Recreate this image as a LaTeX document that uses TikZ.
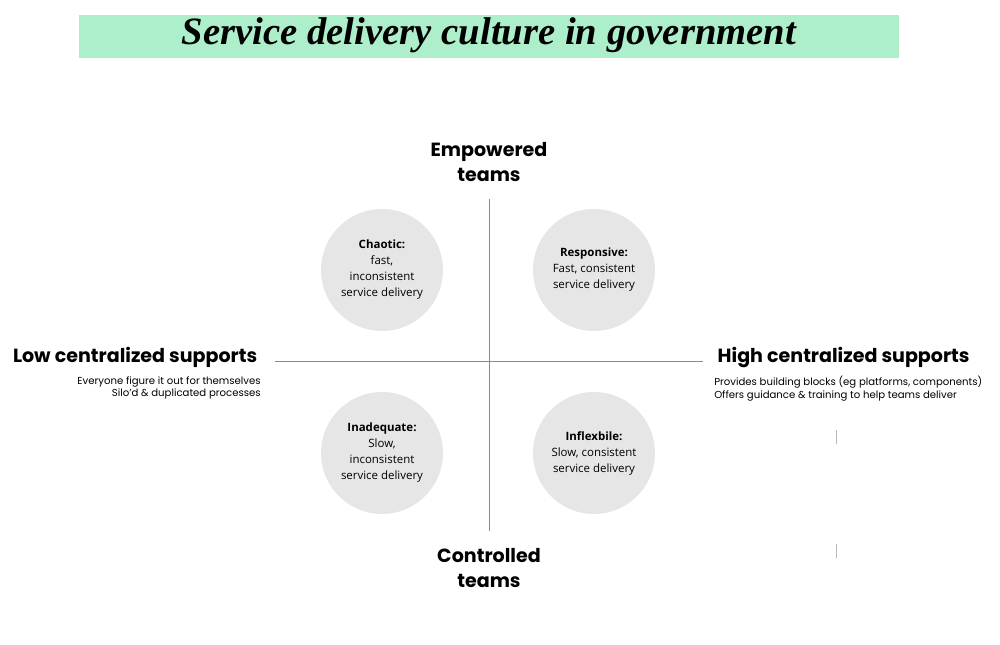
\documentclass[tikz,border=0pt]{standalone}
\usepackage{fontspec}
\setmainfont{Liberation Serif}
\setsansfont{Poppins}
\newfontfamily\opensans{Open Sans}
\usetikzlibrary{positioning}
\definecolor{mint}{HTML}{AEEFCB}
\definecolor{bubble}{HTML}{E6E6E6}
\definecolor{axisgray}{HTML}{8A8A8A}
\tikzset{
  every picture/.style={font={\sffamily\normalsize}},
  axis/.style={draw=axisgray, line width=0.6pt}}

\begin{document}
\begin{tikzpicture}[x=0.75pt, y=-0.75pt,
    quadrant/.style={circle, fill=bubble, minimum size=91.5pt, inner sep=0pt,
      align=center, font={\opensans\fontsize{8.6}{12}\selectfont}},
    heading/.style={font={\sffamily\bfseries\fontsize{14.3}{18.5}\selectfont}, align=center},
    note/.style={font={\sffamily\fontsize{7.6}{9.5}\selectfont}}]

    \useasboundingbox (0,0) rectangle (1000,645);
    \fill[mint] (79,15) rectangle (899,58);
    \node (title) at (489,35) {\rmfamily\itshape\bfseries\fontsize{29}{32}\selectfont Service delivery culture in government};

    \begin{scope}
      \node[quadrant] (chaotic) at (382,270) {\textbf{Chaotic:}\\fast,\\inconsistent\\service delivery};
      \node[quadrant] (responsive) at (594,270) {\textbf{Responsive:}\\Fast, consistent\\service delivery};
      \node[quadrant] (inadequate) at (382,453) {\textbf{Inadequate:}\\Slow,\\inconsistent\\service delivery};
      \node[quadrant] (inflexible) at (594,453) {\textbf{Inflexbile:}\\Slow, consistent\\service delivery};
    \end{scope}

    \coordinate (top) at (489,199);
    \coordinate (bottom) at (489,531);
    \coordinate (left) at (275,361);
    \coordinate (right) at (703,361);
    \path[axis] (left) -- (right);
    \path[axis] (bottom) -- (top);

    \node[heading] (empowered) at (489,162) {Empowered\\teams};
    \node[heading] (controlled) at (489,568) {Controlled\\teams};
    \node[heading, anchor=east] (low) at (262,357) {Low centralized supports};
    \node[heading, anchor=west] (high) at (713,357) {High centralized supports};
    \node[note, anchor=north east, align=right, inner sep=0pt] (lownote) at (261,376)
      {Everyone figure it out for themselves\\Silo'd \& duplicated processes};
    \node[note, anchor=north west, align=left, inner sep=0pt] (highnote) at (714,376)
      {Provides building blocks (eg platforms, components)\\Offers guidance \& training to help teams deliver};

    \draw[axisgray!60, line width=0.5pt] (836,430) -- (836,444);
    \draw[axisgray!60, line width=0.5pt] (836,544) -- (836,558);
  \end{tikzpicture}
\end{document}
